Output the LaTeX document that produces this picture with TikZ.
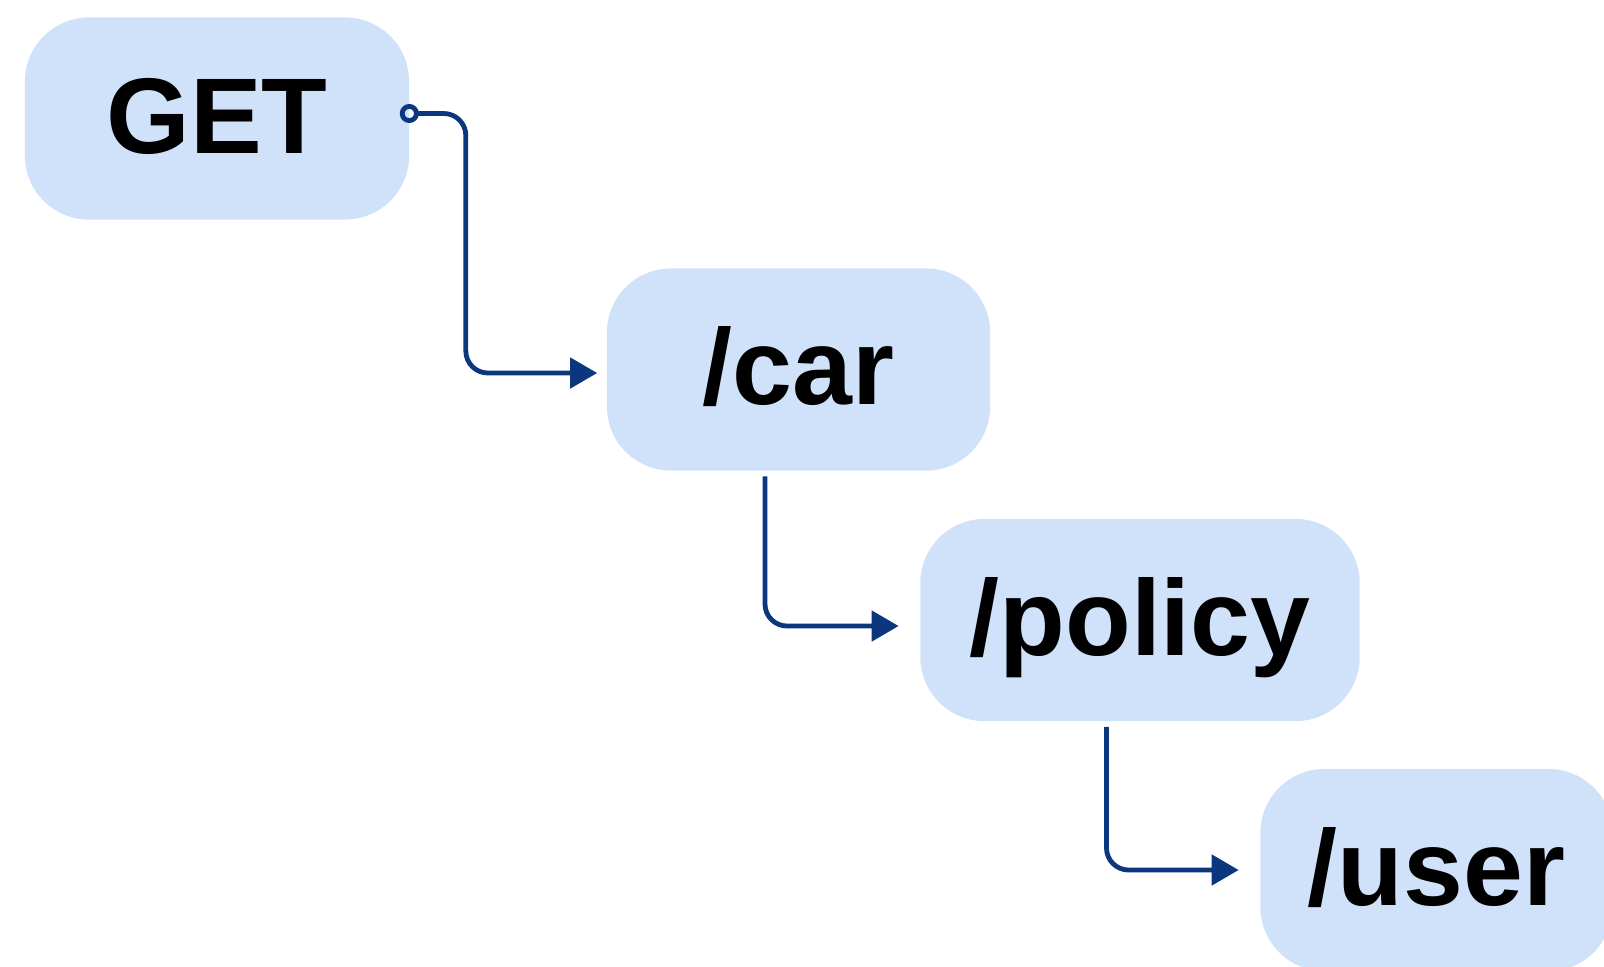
\documentclass[tikz,border=0pt]{standalone}
\usepackage{fontspec}
\setmainfont{Liberation Sans}
\usetikzlibrary{arrows.meta}
\definecolor{boxblue}{RGB}{208,225,250}
\definecolor{linkblue}{RGB}{10,55,125}
\tikzset{
  route/.style={fill=boxblue, rounded corners=.64cm, minimum height=2.02cm, inner sep=0pt,
    text height=24pt, text depth=4pt, font=\fontsize{30.6}{36}\selectfont\bfseries},
  link/.style={draw=linkblue, line width=.048cm, rounded corners=.22cm},
}
\begin{document}
\begin{tikzpicture}[x=.01cm, y=-.01cm, >={Triangle[length=.27cm,width=.3cm]}]
\useasboundingbox (0,0) rectangle (1604,966);
\clip (0,0) rectangle (1604,966);
\fill[white] (0,0) rectangle (1604,966);

\node[route, minimum width=3.84cm] (get) at (217,118.5) {GET};
\node[route, minimum width=3.83cm] (car) at (798.5,369.5) {/car};
\node[route, minimum width=4.39cm] (policy) at (1140,620) {/policy};
\node[route, minimum width=3.52cm] (user) at (1436.5,870) {/user};

\draw[link, {Circle[open,length=.19cm]}->, shorten >=.09cm]([xshift=-.1cm,yshift=.05cm]get.east)--++(66,0)|-([yshift=-.035cm]car.west);
\draw[link, ->, shorten >=.21cm, shorten <=.05cm]([xshift=-.335cm]car.south)|-([yshift=-.06cm]policy.west);
\draw[link, ->, shorten >=.21cm, shorten <=.05cm]([xshift=-.335cm]policy.south)|-(user.west);

\end{tikzpicture}
\end{document}
